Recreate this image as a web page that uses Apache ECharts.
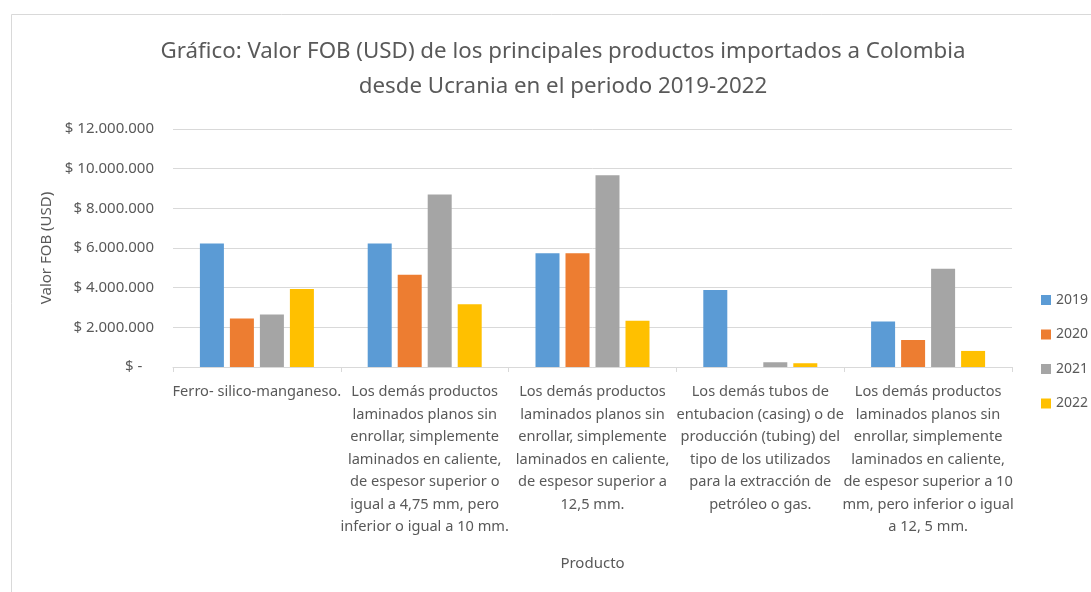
<!DOCTYPE html>
<html>
<head>
<meta charset="utf-8">
<script src="https://cdn.jsdelivr.net/npm/echarts@6/dist/echarts.min.js"></script>
<style>
  html, body { margin: 0; padding: 0; background: #fff; }
  #chart { width: 1091px; height: 592px; }
</style>
</head>
<body>
<div id="chart"></div>
<script>
// data
const productos = [
  "Ferro- silico-manganeso.",
  "Los demás productos\nlaminados planos sin\nenrollar, simplemente\nlaminados en caliente,\nde espesor superior o\nigual a 4,75 mm, pero\ninferior o igual a 10 mm.",
  "Los demás productos\nlaminados planos sin\nenrollar, simplemente\nlaminados en caliente,\nde espesor superior a\n12,5 mm.",
  "Los demás tubos de\nentubacion (casing) o de\nproducción (tubing) del\ntipo de los utilizados\npara la extracción de\npetróleo o gas.",
  "Los demás productos\nlaminados planos sin\nenrollar, simplemente\nlaminados en caliente,\nde espesor superior a 10\nmm, pero inferior o igual\na 12, 5 mm."
]
const anios = ["2019", "2020", "2021", "2022"]
const fob2019 = [6230000, 6230000, 5730000, 3880000, 2300000]
const fob2020 = [2450000, 4650000, 5730000, 0, 1360000]
const fob2021 = [2650000, 8700000, 9670000, 240000, 4950000]
const fob2022 = [3930000, 3170000, 2330000, 190000, 810000]

const colores = ["#5B9BD5", "#ED7D31", "#A5A5A5", "#FFC000"]
const font = "'Noto Sans', sans-serif"
const gris = "#595959"

const fmtUSD = (v) => {
  if (v === 0) return "$ -   "
  return "$ " + String(v).replace(/\B(?=(\d{3})+(?!\d))/g, ".")
}

const chart = echarts.init(document.getElementById("chart"), null, { renderer: "canvas" })

chart.setOption({
  backgroundColor: "#fff",
  animation: false,
  color: colores,
  textStyle: { fontFamily: font },
  graphic: [
    {
      type: "rect",
      shape: { x: 11.5, y: 14.5, width: 1200, height: 700 },
      style: { fill: "none", stroke: "#d9d9d9", lineWidth: 1 },
      silent: true,
    },
  ],
  title: {
    text: "Gráfico: Valor FOB (USD) de los principales productos importados a Colombia\ndesde Ucrania en el periodo 2019-2022",
    left: 558,
    top: 29,
    textAlign: "center",
    textStyle: {
      fontFamily: font,
      fontSize: 22.3,
      fontWeight: "normal",
      color: gris,
      lineHeight: 35,
    },
  },
  legend: {
    orient: "vertical",
    left: 1041,
    top: 293,
    padding: 0,
    itemWidth: 10,
    itemHeight: 10,
    itemGap: 20.5,
    icon: "rect",
    data: anios,
    textStyle: { fontFamily: font, fontSize: 14, color: gris },
  },
  grid: {
    left: 173,
    right: 79,
    top: 129,
    bottom: 225,
    containLabel: false,
  },
  xAxis: {
    type: "category",
    data: productos,
    name: "Producto",
    nameLocation: "middle",
    nameGap: 189,
    nameTextStyle: { fontFamily: font, fontSize: 15, color: gris },
    axisLine: { lineStyle: { color: "#d9d9d9", width: 1 } },
    axisTick: { show: true, length: 5, lineStyle: { color: "#d9d9d9" } },
    axisLabel: {
      interval: 0,
      margin: 14,
      fontFamily: font,
      fontSize: 14.6,
      lineHeight: 22.5,
      color: gris,
      align: "center",
    },
  },
  yAxis: {
    type: "value",
    min: 0,
    max: 12000000,
    interval: 2000000,
    name: "Valor FOB (USD)",
    nameLocation: "middle",
    nameGap: 106,
    nameTextStyle: { fontFamily: font, fontSize: 15, color: gris },
    axisLine: { show: false },
    axisTick: { show: false },
    splitLine: { lineStyle: { color: "#d9d9d9", width: 1 } },
    axisLabel: {
      margin: 19,
      fontFamily: font,
      fontSize: 15,
      color: gris,
      formatter: fmtUSD,
    },
  },
  series: [
    { name: "2019", type: "bar", data: fob2019, barWidth: 24, barGap: "25%" },
    { name: "2020", type: "bar", data: fob2020, barWidth: 24, barGap: "25%" },
    { name: "2021", type: "bar", data: fob2021, barWidth: 24, barGap: "25%" },
    { name: "2022", type: "bar", data: fob2022, barWidth: 24, barGap: "25%" },
  ],
})
</script>
</body>
</html>
